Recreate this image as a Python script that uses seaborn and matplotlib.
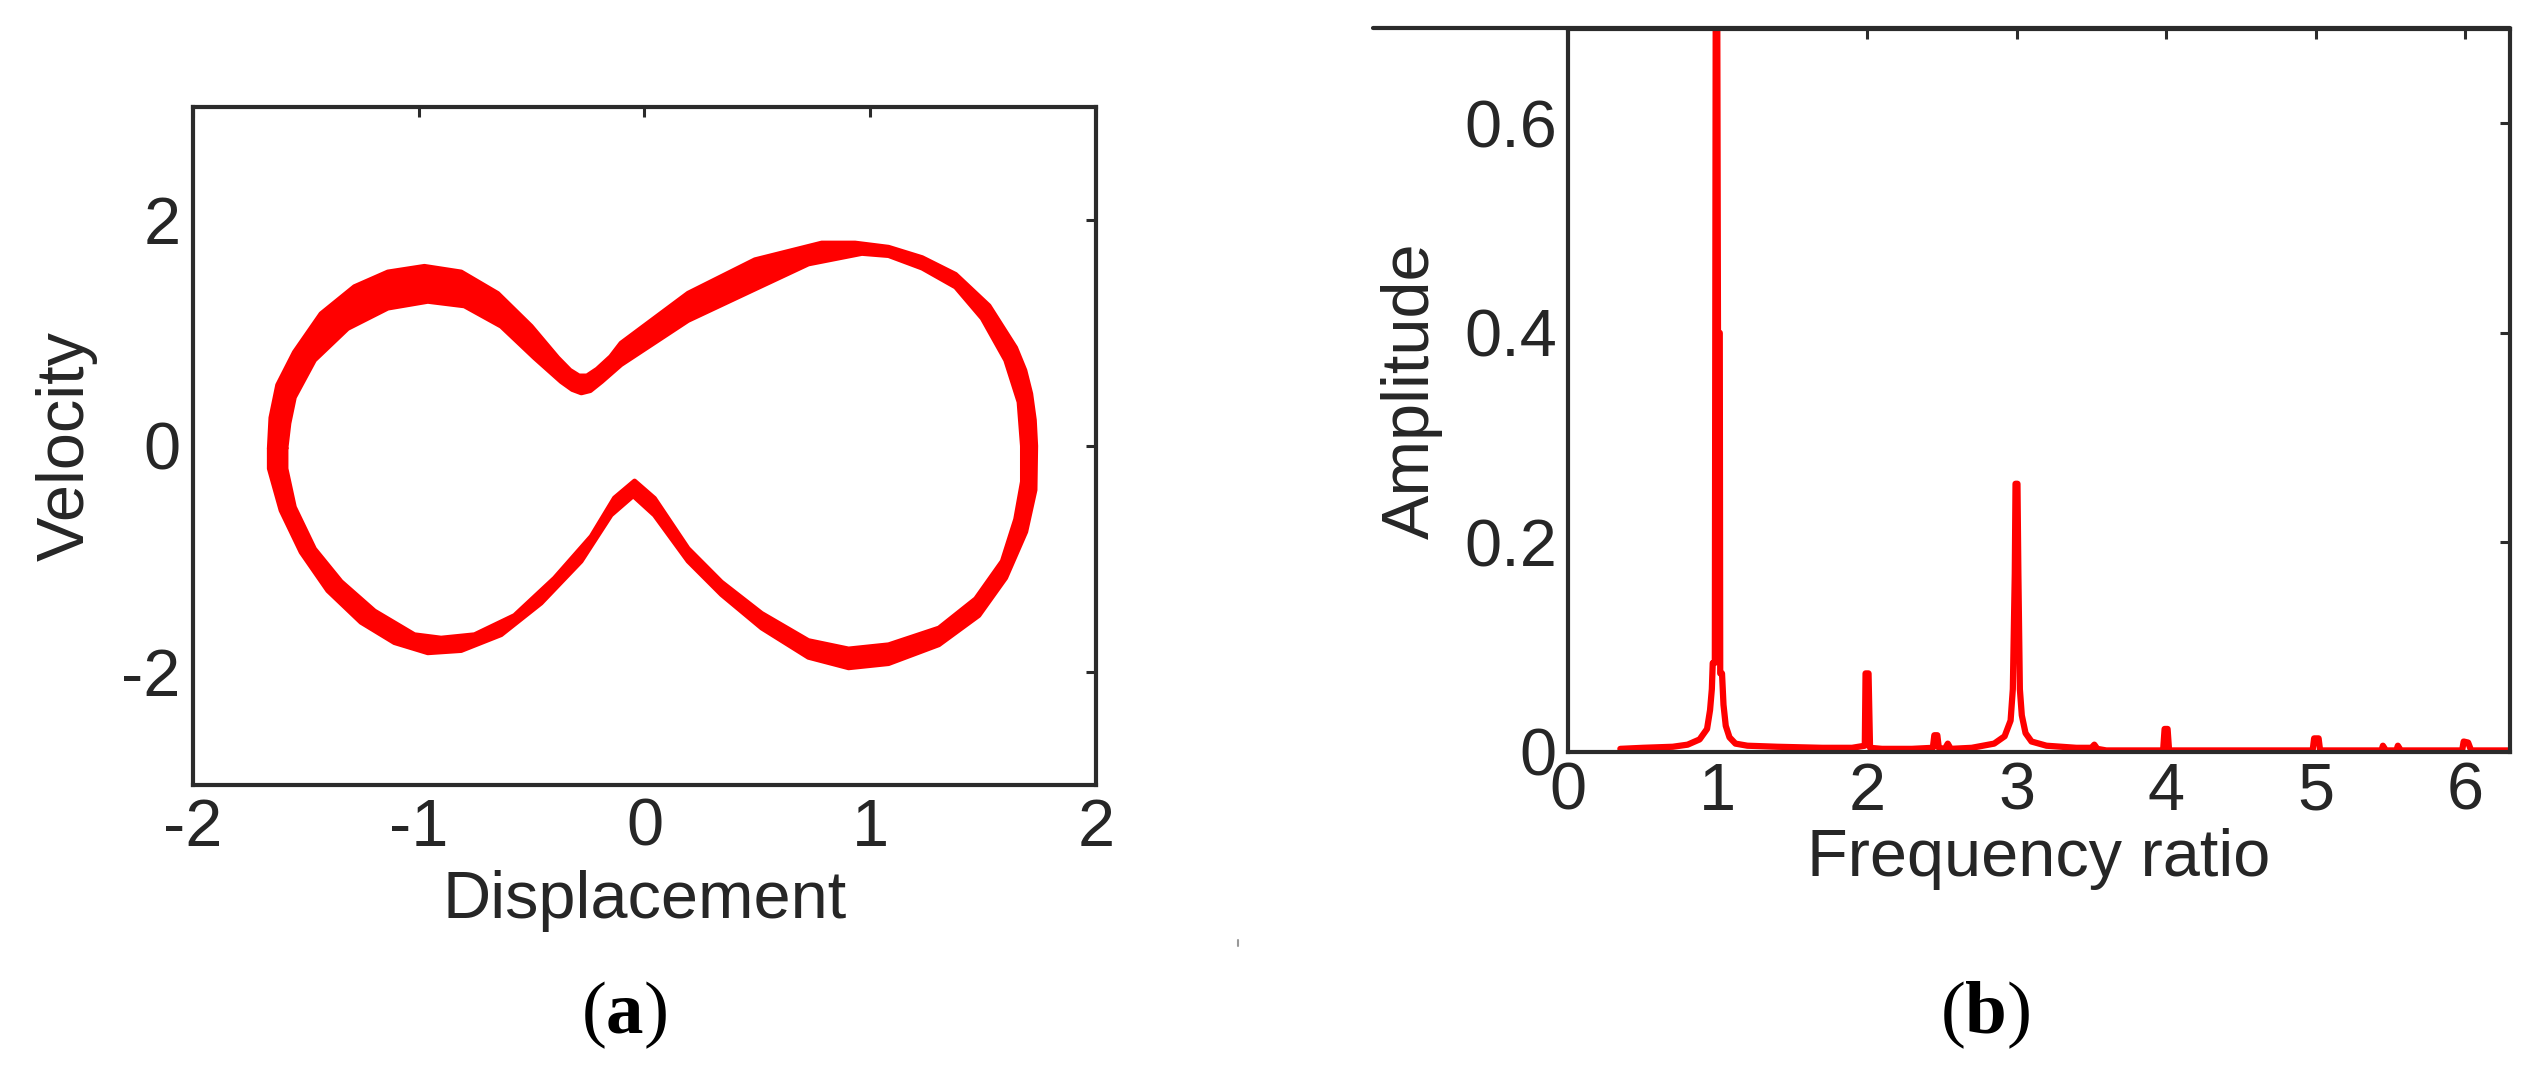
import numpy as np
import pandas as pd
import seaborn as sns
import matplotlib.pyplot as plt
from matplotlib.path import Path
from matplotlib.patches import PathPatch
from matplotlib.lines import Line2D

# (a) phase portrait: outer and inner edge of the red band, clockwise
outer_x = [-1.662, -1.655, -1.625, -1.551, -1.433, -1.285, -1.137, -0.975, -0.812, -0.650, -0.502,
           -0.384, -0.330, -0.290, -0.255, -0.210, -0.150, -0.104, 0.193, 0.489, 0.785, 0.933,
           1.081, 1.230, 1.378, 1.526, 1.644, 1.685, 1.711, 1.727, 1.733, 1.730, 1.689, 1.600,
           1.481, 1.304, 1.081, 0.904, 0.726, 0.519, 0.341, 0.193, 0.044, -0.050, -0.148, -0.281,
           -0.458, -0.635, -0.812, -0.960, -1.108, -1.256, -1.403, -1.521, -1.610, -1.662]
outer_y = [-0.02, 0.25, 0.54, 0.83, 1.17, 1.41, 1.54, 1.59, 1.54, 1.35, 1.06,
           0.78, 0.67, 0.62, 0.62, 0.68, 0.79, 0.91, 1.352, 1.648, 1.796, 1.796,
           1.759, 1.667, 1.519, 1.241, 0.870, 0.67, 0.463, 0.23, 0.0, -0.389, -0.759, -1.167,
           -1.500, -1.759, -1.926, -1.963, -1.870, -1.611, -1.315, -1.019, -0.611, -0.44, -0.61, -1.02,
           -1.39, -1.67, -1.81, -1.83, -1.74, -1.56, -1.28, -0.94, -0.57, -0.20]
inner_x = [-1.588, -1.575, -1.551, -1.462, -1.315, -1.137, -0.960, -0.798, -0.635, -0.487, -0.369,
           -0.320, -0.280, -0.240, -0.190, -0.104, 0.193, 0.489, 0.726, 0.963, 1.081, 1.230,
           1.378, 1.496, 1.600, 1.659, 1.674, 1.674, 1.644, 1.585, 1.467, 1.304, 1.081, 0.904,
           0.726, 0.519, 0.341, 0.193, 0.044, -0.044, -0.133, -0.236, -0.399, -0.576, -0.753,
           -0.901, -1.019, -1.196, -1.344, -1.462, -1.551, -1.588]
inner_y = [-0.02, 0.20, 0.43, 0.76, 1.04, 1.22, 1.28, 1.24, 1.06, 0.78, 0.57,
           0.50, 0.47, 0.49, 0.57, 0.72, 1.111, 1.389, 1.611, 1.704, 1.685, 1.574,
           1.407, 1.130, 0.759, 0.389, 0.0, -0.315, -0.648, -1.019, -1.352, -1.611, -1.759, -1.796,
           -1.722, -1.481, -1.204, -0.907, -0.463, -0.31, -0.46, -0.80, -1.17, -1.50, -1.67,
           -1.70, -1.67, -1.46, -1.20, -0.91, -0.54, -0.20]

# (b) amplitude spectrum
freq = [0.35, 0.5, 0.7, 0.8, 0.88, 0.93, 0.95, 0.962, 0.968, 0.982, 0.988, 0.998, 1.003, 1.015,
        1.018, 1.03, 1.04, 1.055, 1.08, 1.12, 1.2, 1.4, 1.7, 1.9, 1.985, 1.99, 2.01, 2.02,
        2.1, 2.3, 2.44, 2.45, 2.47, 2.48, 2.52, 2.54, 2.56, 2.7, 2.85, 2.92, 2.96, 2.975,
        2.988, 2.993, 3.006, 3.012, 3.022, 3.035, 3.06, 3.1, 3.2, 3.4, 3.5, 3.52, 3.54, 3.6,
        3.98, 3.99, 4.01, 4.02, 4.98, 4.99, 5.02, 5.03, 5.44, 5.45, 5.47, 5.54, 5.55, 5.57,
        5.98, 5.99, 6.02, 6.04, 6.3]
amp = [0.003, 0.004, 0.005, 0.007, 0.012, 0.022, 0.04, 0.06, 0.085, 0.085, 0.72, 0.72, 0.40, 0.40,
       0.075, 0.075, 0.045, 0.025, 0.014, 0.008, 0.006, 0.005, 0.004, 0.004, 0.006, 0.075, 0.075, 0.004,
       0.003, 0.003, 0.004, 0.016, 0.016, 0.004, 0.003, 0.008, 0.003, 0.004, 0.008, 0.015, 0.03, 0.06,
       0.17, 0.256, 0.256, 0.17, 0.06, 0.035, 0.018, 0.010, 0.006, 0.004, 0.004, 0.007, 0.003, 0.0015,
       0.0015, 0.022, 0.022, 0.0015, 0.0015, 0.013, 0.013, 0.0015, 0.0015, 0.006, 0.0015, 0.0015, 0.006, 0.0015,
       0.0015, 0.01, 0.009, 0.0015, 0.0015]

sns.set_style("white")
plt.rcParams['font.family'] = ['Liberation Sans', 'DejaVu Sans']
plt.rcParams['axes.unicode_minus'] = False
plt.rcParams['mathtext.fontset'] = 'custom'
plt.rcParams['mathtext.rm'] = 'Liberation Serif'
plt.rcParams['mathtext.bf'] = 'Liberation Serif:bold'

W, H = 2541, 1073
fig = plt.figure(figsize=(W / 100, H / 100), dpi=100)
ink = '#262626'

def style(ax, xpad, ypad):
    for s in ax.spines.values():
        s.set_linewidth(3)
        s.set_color('#2b2b2b')
        s.set_visible(True)
    ax.tick_params(direction='in', length=7, width=2.2, top=True, right=True,
                   labelsize=48, labelcolor=ink, color='#2b2b2b')
    ax.tick_params(axis='x', pad=xpad)
    ax.tick_params(axis='y', pad=ypad)

# ---- (a) ----
ax1 = fig.add_axes([193 / W, 1 - 785 / H, 903 / W, 678 / H])
ox = outer_x + [outer_x[0]]
oy = outer_y + [outer_y[0]]
ix = inner_x[::-1] + [inner_x[-1]]
iy = inner_y[::-1] + [inner_y[-1]]
verts = list(zip(ox, oy)) + list(zip(ix, iy))
codes = ([Path.MOVETO] + [Path.LINETO] * (len(ox) - 2) + [Path.CLOSEPOLY]
         + [Path.MOVETO] + [Path.LINETO] * (len(ix) - 2) + [Path.CLOSEPOLY])
ax1.add_patch(PathPatch(Path(verts, codes), facecolor='red', edgecolor='none'))
sns.lineplot(x=ox, y=oy, sort=False, estimator=None, color='red', lw=3.5,
             solid_joinstyle='round', ax=ax1)
sns.lineplot(x=inner_x + [inner_x[0]], y=inner_y + [inner_y[0]], sort=False, estimator=None,
             color='red', lw=3.5, solid_joinstyle='round', ax=ax1)
ax1.set_xlim(-2, 2)
ax1.set_ylim(-3, 3)
ax1.set_xticks([-2, -1, 0, 1, 2])
ax1.set_yticks([-2, 0, 2])
style(ax1, 9, 9)
ax1.set_xlabel('Displacement', fontsize=48, color=ink)
ax1.set_ylabel('Velocity', fontsize=48, color=ink)
ax1.xaxis.set_label_coords(0.5, -0.125)
ax1.yaxis.set_label_coords(-0.105, 0.5)

# ---- (b) ----
ax2 = fig.add_axes([1568 / W, 1 - 752 / H, 942 / W, 723 / H])
sns.lineplot(x=freq, y=amp, sort=False, estimator=None, color='red', lw=4.5,
             solid_joinstyle='round', ax=ax2)
ax2.set_xlim(0, 6.3)
ax2.set_ylim(0, 0.69)
ax2.set_xticks([0, 1, 2, 3, 4, 5, 6])
ax2.set_yticks([0, 0.2, 0.4, 0.6])
ax2.set_yticklabels(['0', '0.2', '0.4', '0.6'])
style(ax2, 7, 8)
ax2.set_xlabel('Frequency ratio', fontsize=48, color=ink)
ax2.set_ylabel('Amplitude', fontsize=48, color=ink)
ax2.xaxis.set_label_coords(0.5, -0.105)
ax2.yaxis.set_label_coords(-0.133, 0.5)

# top rule running left of panel (b)
fig.add_artist(Line2D([1373 / W, 2510 / W], [1 - 28 / H, 1 - 28 / H], color='#2b2b2b', lw=3))
fig.add_artist(Line2D([1238 / W, 1238 / W], [1 - 940 / H, 1 - 946 / H], color='#999999', lw=1.5))

fig.text(624 / W, 1 - 1015 / H, r'$(\mathbf{a})$', fontsize=54, ha='center', va='center', color='black')
fig.text(1985 / W, 1 - 1015 / H, r'$(\mathbf{b})$', fontsize=54, ha='center', va='center', color='black')

fig.savefig('out.png', dpi=100, facecolor='white')
